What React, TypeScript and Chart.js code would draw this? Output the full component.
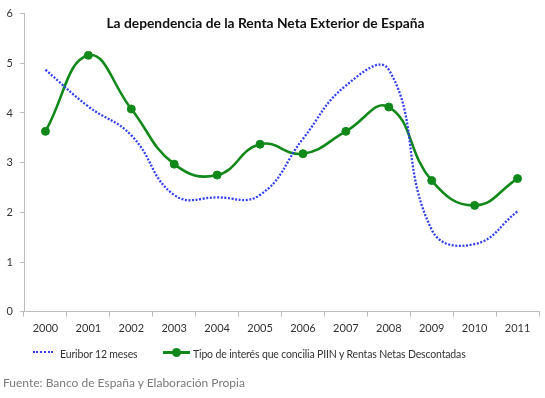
import React, { useEffect, useRef } from "react";
import { Chart, registerables } from "chart.js";

Chart.register(...registerables);

const years = ["2000", "2001", "2002", "2003", "2004", "2005", "2006", "2007", "2008", "2009", "2010", "2011"];
const euribor = [4.87, 4.13, 3.55, 2.35, 2.3, 2.35, 3.48, 4.55, 4.87, 1.65, 1.36, 2.02];
const tipoInteres = [3.63, 5.16, 4.08, 2.97, 2.75, 3.37, 3.18, 3.63, 4.12, 2.64, 2.14, 2.68];
const yTicks = [0, 1, 2, 3, 4, 5, 6];

const titleText = "La dependencia de la Renta Neta Exterior de España";
const seriesNames = ["Euribor 12 meses", "Tipo de interés que concilia PIIN y Rentas Netas Descontadas"];
const sourceText = "Fuente: Banco de España y Elaboración Propia";

const BLUE = "#3340f0";
const GREEN = "#11891a";
const AXIS = "#bdbdbd";
const FONT = "Lato, 'Open Sans', sans-serif";

export default function App() {
  const ref = useRef<HTMLCanvasElement>(null);

  useEffect(() => {
    if (!ref.current) return;
    const chart = new Chart(ref.current, {
      type: "line",
      data: {
        labels: years,
        datasets: [
          {
            label: seriesNames[0],
            data: euribor,
            borderColor: BLUE,
            borderWidth: 2.3,
            borderDash: [2, 1.6],
            pointRadius: 0,
            tension: 0.45,
            fill: false,
          },
          {
            label: seriesNames[1],
            data: tipoInteres,
            borderColor: GREEN,
            backgroundColor: GREEN,
            borderWidth: 2.6,
            pointRadius: 4,
            pointBorderWidth: 1,
            pointBackgroundColor: GREEN,
            pointBorderColor: GREEN,
            tension: 0.45,
            fill: false,
          },
        ],
      },
      options: {
        responsive: false,
        animation: false,
        layout: { padding: { top: 10, right: 6, bottom: 58, left: 0 } },
        plugins: { legend: { display: false }, title: { display: false }, tooltip: { enabled: false } },
        scales: {
          x: {
            offset: true,
            grid: { display: true, drawOnChartArea: false, offset: true, tickLength: 5, color: AXIS },
            border: { color: AXIS, width: 1 },
            ticks: { color: "#333", font: { family: FONT, size: 11 }, padding: 5, maxRotation: 0, autoSkip: false },
            afterFit: (s: any) => { s.height = 28.3; },
          },
          y: {
            min: 0,
            max: 6,
            afterBuildTicks: (s: any) => { s.ticks = yTicks.map((v) => ({ value: v })); },
            grid: { display: true, drawOnChartArea: false, tickLength: 4, color: AXIS },
            border: { color: AXIS, width: 1 },
            ticks: { color: "#333", font: { family: FONT, size: 11 }, padding: 7 },
            afterFit: (s: any) => { s.width = 24; },
          },
        },
      },
    });
    return () => chart.destroy();
  }, []);

  return (
    <div style={{ position: "fixed", left: 0, top: 0, width: 545, height: 398, background: "#fff", fontFamily: FONT }}>
      <canvas ref={ref} width={545} height={398} style={{ position: "absolute", left: 0, top: 0, display: "block" }} />
      <div style={{ position: "absolute", left: 0, width: 531, top: 14, textAlign: "center", fontWeight: 700, fontSize: 13.8, color: "#111", lineHeight: "17px", whiteSpace: "nowrap" }}>
        {titleText}
      </div>
      <div style={{ position: "absolute", left: 33, top: 351, width: 20, height: 0, borderTop: `2px dotted ${BLUE}` }} />
      <div style={{ position: "absolute", left: 60, top: 347, fontSize: 10.5, letterSpacing: "-0.15px", color: "#333", lineHeight: "15px", whiteSpace: "nowrap" }}>{seriesNames[0]}</div>
      <div style={{ position: "absolute", left: 163, top: 351, width: 27, height: 3, background: GREEN }} />
      <div style={{ position: "absolute", left: 172, top: 348, width: 9, height: 9, borderRadius: "50%", background: GREEN }} />
      <div style={{ position: "absolute", left: 193, top: 347, fontSize: 10.5, letterSpacing: "-0.15px", color: "#333", lineHeight: "15px", whiteSpace: "nowrap" }}>{seriesNames[1]}</div>
      <div style={{ position: "absolute", left: 3, top: 375, fontSize: 12, color: "#7a7a7a", lineHeight: "16px", whiteSpace: "nowrap" }}>{sourceText}</div>
    </div>
  );
}
